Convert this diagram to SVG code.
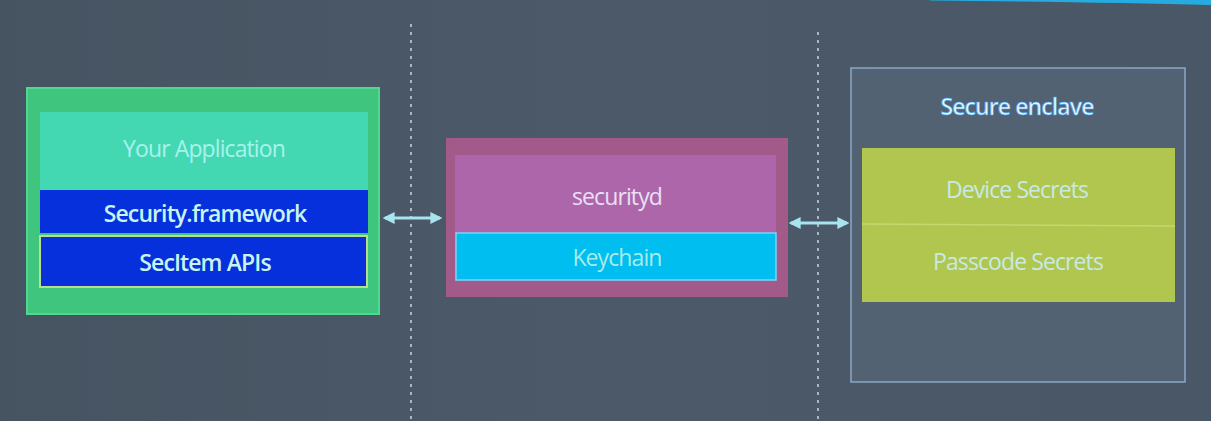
<svg xmlns="http://www.w3.org/2000/svg" width="1211" height="421" viewBox="0 0 1211 421">
<defs>
<style>
.t{font-family:"Open Sans","Noto Sans",sans-serif;font-size:23px;font-weight:500;text-anchor:middle;dominant-baseline:central;letter-spacing:-0.9px}
.b{font-weight:600}
.div{stroke:#c8d8e8;stroke-width:1.5;stroke-dasharray:3 5}
.conn{stroke:#a8e4ee;stroke-width:3;fill:none}
</style>
<linearGradient id="bg" x1="0" y1="0" x2="1" y2="0">
<stop offset="0" stop-color="#465462"/>
<stop offset="0.5" stop-color="#4b5969"/>
<stop offset="1" stop-color="#495767"/>
</linearGradient>
<marker id="ah" viewBox="0 0 10 10" refX="8" refY="5" markerWidth="4" markerHeight="4" orient="auto-start-reverse">
<path d="M0,0 L10,5 L0,10 z" fill="#a8e4ee"/>
</marker>
</defs>
<rect width="1211" height="421" fill="url(#bg)"/>
<path d="M930,0 L1211,0 L1211,5 Q1100,2 930,0.5 z" fill="#1ec0ff" opacity="0.8"/>
<line class="div" x1="411" y1="24" x2="411" y2="421"/>
<line class="div" x1="818" y1="32" x2="818" y2="421"/>

<g id="app">
<rect x="27" y="88" width="352" height="226" fill="#3fc57e" stroke="#52d88c" stroke-width="2"/>
<rect x="40" y="112" width="328" height="78" fill="#43d8b2"/>
<text class="t" x="204" y="148" fill="#a8f2ee">Your Application</text>
</g>
<g id="security-framework">
<rect x="40" y="190" width="328" height="43" fill="#0630dc"/>
<text class="t b" x="205" y="213" fill="#c8f4f0">Security.framework</text>
</g>
<g id="secitem">
<rect x="40" y="236" width="327" height="51" fill="#0630dc" stroke="#b8e08a" stroke-width="2"/>
<text class="t b" x="205" y="262" fill="#c8f4f0">SecItem APIs</text>
</g>

<g id="securityd">
<rect x="446" y="138" width="342" height="159" fill="#a25a8a"/>
<rect x="455" y="155" width="321" height="126" fill="#ae66ab"/>
<text class="t" x="617" y="196" fill="#e8e0f4">securityd</text>
</g>
<g id="keychain">
<rect x="456" y="233" width="320" height="47" fill="#00bef0" stroke="#7ad4f4" stroke-width="1.5"/>
<text class="t" x="617" y="257" fill="#a8ece8">Keychain</text>
</g>

<g id="enclave">
<rect x="851" y="68" width="334" height="314" fill="#526272" stroke="#8aa8c8" stroke-width="1.5"/>
<text class="t b" x="1017" y="106" fill="#e8f4ff" stroke="#3aa0e8" stroke-width="0.6">Secure enclave</text>
</g>
<g id="device-secrets">
<rect x="862" y="148" width="313" height="76" fill="#b0c64e"/>
<text class="t" x="1017" y="189" fill="#c8eae6">Device Secrets</text>
</g>
<g id="passcode-secrets">
<rect x="862" y="224" width="313" height="78" fill="#b0c64e"/>
<line x1="862" y1="224" x2="1175" y2="226" stroke="#c4d870" stroke-width="1.5"/>
<text class="t" x="1018" y="261" fill="#c8eae6">Passcode Secrets</text>
</g>

<g id="connectors">
<line class="conn" x1="385" y1="218" x2="440" y2="218" marker-start="url(#ah)" marker-end="url(#ah)"/>
<line class="conn" x1="791" y1="223" x2="847" y2="223" marker-start="url(#ah)" marker-end="url(#ah)"/>
</g>
</svg>
